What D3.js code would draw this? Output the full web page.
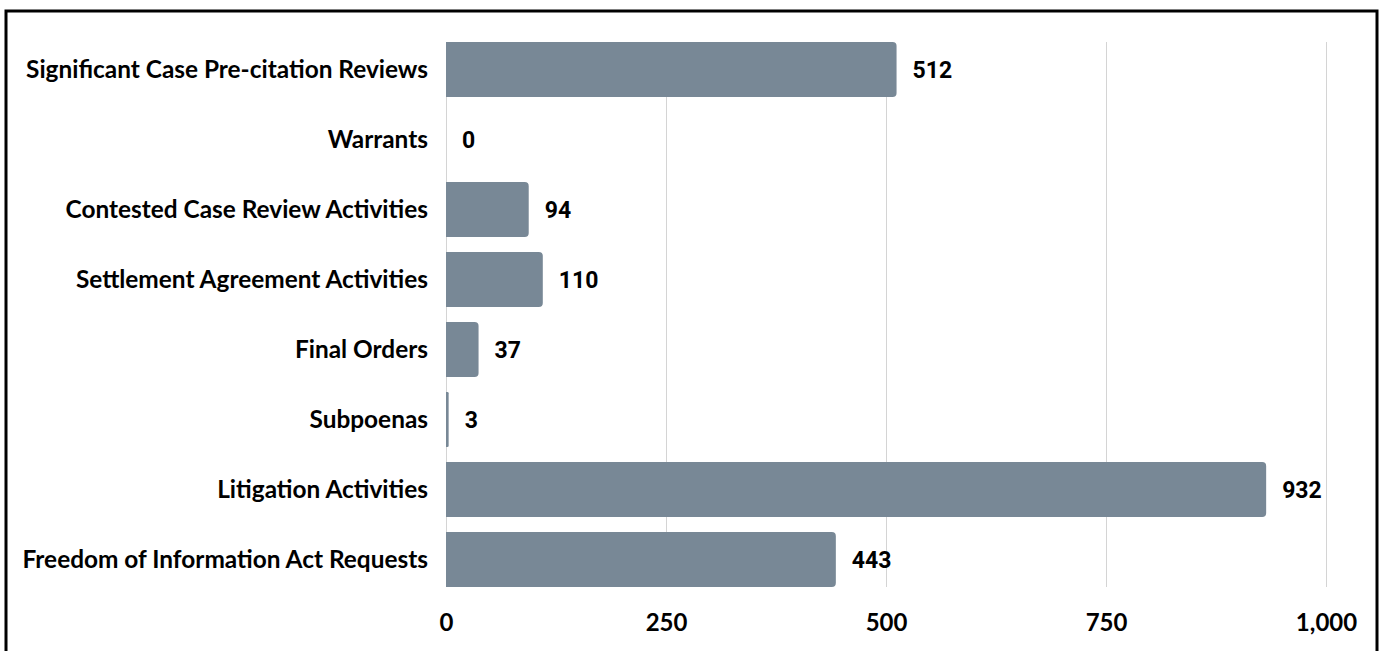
<!DOCTYPE html>
<html>
<head>
<meta charset="utf-8">
<script src="https://cdn.jsdelivr.net/npm/d3@7"></script>
<style>
  html, body { margin: 0; padding: 0; background: #fff; }
  svg { display: block; }
</style>
</head>
<body>
<svg id="chart" width="1382" height="651"></svg>
<script>
const categories = [
  "Significant Case Pre-citation Reviews",
  "Warrants",
  "Contested Case Review Activities",
  "Settlement Agreement Activities",
  "Final Orders",
  "Subpoenas",
  "Litigation Activities",
  "Freedom of Information Act Requests"
];
const values = [512, 0, 94, 110, 37, 3, 932, 443];
const tickValues = [0, 250, 500, 750, 1000];

const svg = d3.select("#chart");

// outer border
svg.append("rect")
  .attr("x", 6).attr("y", 11)
  .attr("width", 1371).attr("height", 660)
  .attr("fill", "none").attr("stroke", "#000").attr("stroke-width", 3);

const x = d3.scaleLinear().domain([0, 1000]).range([446, 1326]);
const y = d3.scaleBand().domain(categories)
  .range([42 - 7.5, 587 + 7.5])
  .paddingInner(15 / 70).paddingOuter(0.5 * 15 / 70);

const gridTop = 42, gridBottom = 587;
svg.append("g").selectAll("line").data(tickValues).join("line")
  .attr("x1", d => x(d) + 0.5).attr("x2", d => x(d) + 0.5)
  .attr("y1", gridTop).attr("y2", gridBottom)
  .attr("stroke", "#d4d4d4").attr("stroke-width", 1);

// bars with rounded right corners
function barPath(x0, x1, y0, h, r) {
  const w = x1 - x0;
  const rr = Math.min(r, w / 2, h / 2);
  if (w <= 0) return "";
  return `M${x0},${y0}H${x1 - rr}Q${x1},${y0} ${x1},${y0 + rr}V${y0 + h - rr}Q${x1},${y0 + h} ${x1 - rr},${y0 + h}H${x0}Z`;
}
svg.append("g").selectAll("path").data(categories).join("path")
  .attr("d", (c, i) => barPath(x(0), x(values[i]), y(c), y.bandwidth(), 4))
  .attr("fill", "#788896");

// value labels
svg.append("g").selectAll("text").data(categories).join("text")
  .attr("x", (c, i) => x(values[i]) + 16)
  .attr("y", c => y(c) + y.bandwidth() / 2)
  .attr("dy", "0.36em")
  .attr("font-family", "Roboto, sans-serif")
  .attr("font-weight", "bold")
  .attr("font-size", 23)
  .attr("fill", "#000")
  .text((c, i) => d3.format(",")(values[i]));

// category labels
svg.append("g").selectAll("text").data(categories).join("text")
  .attr("x", 428)
  .attr("y", c => y(c) + y.bandwidth() / 2)
  .attr("dy", "0.36em")
  .attr("text-anchor", "end")
  .attr("font-family", "Lato, sans-serif")
  .attr("font-weight", "bold")
  .attr("font-size", 24.4)
  .attr("fill", "#000")
  .text(c => c);

// x axis tick labels
const xAxis = d3.axisBottom(x).tickValues(tickValues).tickFormat(d3.format(",")).tickSize(0).tickPadding(0);
const gx = svg.append("g").attr("transform", "translate(0,612)").call(xAxis);
gx.select(".domain").remove();
gx.selectAll("text")
  .attr("dy", "0.36em").attr("y", 10)
  .attr("font-family", "Lato, sans-serif")
  .attr("font-weight", "bold")
  .attr("font-size", 24)
  .attr("fill", "#000");
</script>
</body>
</html>
